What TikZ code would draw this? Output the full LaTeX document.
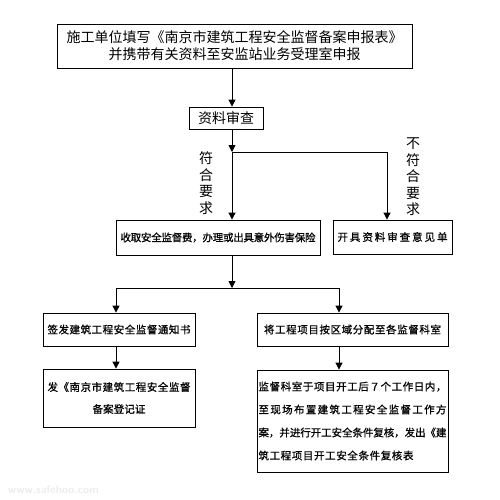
\documentclass[tikz,border=0pt]{standalone}
\usepackage{fontspec}
\setmainfont{Noto Sans CJK SC}
\newfontfamily\heavycjk[FakeBold=0.8]{Noto Sans CJK SC}
\usetikzlibrary{arrows.meta}
\ExplSyntaxOn
\NewDocumentCommand\sline{mm}{\makebox[#1pt][s]{\tl_map_inline:nn {#2}{##1\hskip 0pt plus 1fil minus 1pt}\unskip}}
\ExplSyntaxOff
\begin{document}
\begin{tikzpicture}[x=1pt,y=-1pt,
  box/.style={draw, line width=0.8pt, inner sep=0pt, align=center},
  small/.style={font=\heavycjk\fontsize{10.5}{22}\selectfont},
  arr/.style={line width=0.8pt, -{Triangle[width=7pt,length=7pt]}},
  ln/.style={line width=0.8pt},
  lbl/.style={inner sep=0pt, align=center, font=\fontsize{14}{16.5}\selectfont}]
\useasboundingbox (0,0) rectangle (500,499);
% boxes
\node[box, minimum width=355pt, minimum height=44pt, font=\fontsize{14}{17}\selectfont] (top) at (234.5,46)
  {施工单位填写《南京市建筑工程安全监督备案申报表》\\并携带有关资料至安监站业务受理室申报};
\node[box, minimum width=74pt, minimum height=22pt, font=\fontsize{14}{17}\selectfont] (chk) at (226,118) {资料审查};
\node[box, small, minimum width=204pt, minimum height=35pt] (fee) at (218,237.5)
  {\sline{195}{收取安全监督费，办理或出具意外伤害保险}};
\node[box, small, minimum width=119pt, minimum height=34pt] (rej) at (392.5,237)
  {\sline{110}{开具资料审查意见单}};
\node[box, small, minimum width=152pt, minimum height=33pt] (notice) at (119,329.5)
  {\sline{143}{签发建筑工程安全监督通知书}};
\node[box, small, minimum width=191pt, minimum height=33pt] (assign) at (352.5,329.5)
  {\sline{177}{将工程项目按区域分配至各监督科室}};
\node[box, small, minimum width=152pt, minimum height=58pt] (cert) at (119,398)
  {\sline{143}{发《南京市建筑工程安全监督}\\\sline{53}{备案登记证}};
\node[box, small, align=left, minimum width=191pt, minimum height=102pt, font=\heavycjk\fontsize{10.5}{23}\selectfont] (insp) at (352.5,421)
  {\sline{188}{监督科室于项目开工后７个工作日内，}\\
   \sline{188}{至现场布置建筑工程安全监督工作方}\\
   \sline{188}{案，并进行开工安全条件复核，发出《建}\\
   \sline{155}{筑工程项目开工安全条件复核表}};
% labels
\node[lbl] (yes) at (206,183) {符\\合\\要\\求};
\node[lbl] (no) at (413,177) {不\\符\\合\\要\\求};
\node[inner sep=0pt, anchor=west, text=gray!15, font=\sffamily\bfseries\fontsize{11}{11}\selectfont] (wm) at (8,490) {www.safehoo.com};
% junctions
\coordinate (j1) at (232,152);
\coordinate (j1r) at (387,152);
\coordinate (j2) at (232,288);
\coordinate (j2l) at (116,288);
\coordinate (j2r) at (339,288);
% connectors
\draw[arr] (top.south -| j1) -- (chk.north -| j1);
\draw[arr] (chk.south -| j1) -- (j1);
\draw[ln] (j1) -- (j1r);
\draw[arr] (j1) -- (fee.north -| j1);
\draw[arr] (j1r) -- (rej.north -| j1r);
\draw[arr] (fee.south -| j1) -- (j2);
\draw[ln] (j2l) -- (j2r);
\draw[arr] (j2l) -- (notice.north -| j2l);
\draw[arr] (j2r) -- (assign.north -| j2r);
\draw[arr] (notice.south -| j2l) -- (cert.north -| j2l);
\draw[arr] (assign.south -| j2r) -- (insp.north -| j2r);
\end{tikzpicture}
\end{document}
